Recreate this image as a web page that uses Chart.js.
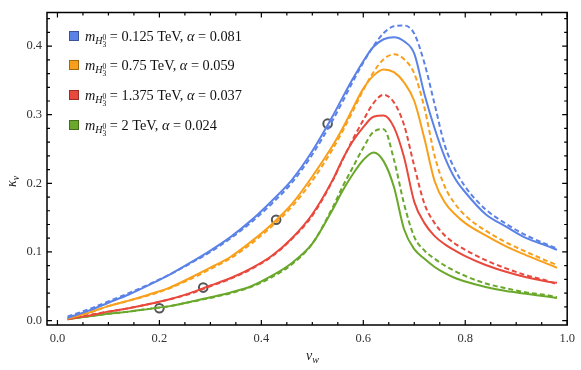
<!DOCTYPE html>
<html lang="en">
<head>
<meta charset="UTF-8">
<title>kappa_v vs v_w</title>
<script src="https://cdn.jsdelivr.net/npm/chart.js@4.4.1/dist/chart.umd.min.js"></script>
<style>
    html, body { margin: 0; padding: 0; background: #fff; }
</style>
</head>
<body>
<canvas id="chart" width="581" height="370"></canvas>
<script>
// wall velocity grid shared by all curves
const vw = [0.02, 0.06, 0.1, 0.14, 0.18, 0.22, 0.26, 0.3, 0.34, 0.38, 0.42, 0.46, 0.5, 0.54, 0.56, 0.58,
            0.6, 0.62, 0.64, 0.66, 0.68, 0.7, 0.72, 0.74, 0.76, 0.78, 0.8, 0.84, 0.88, 0.92, 0.96, 0.98];

const blueSolid   = [0.004, 0.014, 0.026, 0.038, 0.052, 0.067, 0.084, 0.102, 0.122, 0.146, 0.174, 0.205, 0.247, 0.298, 0.326, 0.353,
                     0.378, 0.399, 0.410, 0.413, 0.407, 0.389, 0.330, 0.280, 0.238, 0.207, 0.187, 0.155, 0.137, 0.120, 0.109, 0.103];
const blueDash    = [0.006, 0.016, 0.028, 0.040, 0.053, 0.067, 0.083, 0.100, 0.120, 0.143, 0.170, 0.201, 0.242, 0.292, 0.320, 0.349,
                     0.376, 0.400, 0.419, 0.429, 0.430, 0.418, 0.375, 0.315, 0.255, 0.220, 0.195, 0.162, 0.141, 0.124, 0.111, 0.105];
const orangeSolid = [0.003, 0.011, 0.021, 0.029, 0.038, 0.048, 0.062, 0.077, 0.093, 0.115, 0.140, 0.170, 0.210, 0.255, 0.281, 0.310,
                     0.338, 0.357, 0.366, 0.362, 0.347, 0.320, 0.265, 0.203, 0.172, 0.155, 0.142, 0.124, 0.108, 0.095, 0.083, 0.077];
const orangeDash  = [0.004, 0.011, 0.021, 0.029, 0.037, 0.047, 0.060, 0.075, 0.091, 0.112, 0.137, 0.166, 0.204, 0.250, 0.277, 0.306,
                     0.336, 0.362, 0.381, 0.388, 0.381, 0.360, 0.310, 0.240, 0.195, 0.170, 0.153, 0.131, 0.114, 0.100, 0.087, 0.081];
const redSolid    = [0.002, 0.007, 0.013, 0.018, 0.024, 0.031, 0.040, 0.051, 0.062, 0.076, 0.094, 0.120, 0.155, 0.205, 0.236, 0.262,
                     0.282, 0.297, 0.299, 0.282, 0.238, 0.173, 0.142, 0.123, 0.111, 0.102, 0.094, 0.081, 0.071, 0.063, 0.057, 0.055];
const redDash     = [0.003, 0.008, 0.013, 0.018, 0.024, 0.031, 0.039, 0.050, 0.061, 0.075, 0.093, 0.119, 0.153, 0.204, 0.235, 0.265,
                     0.292, 0.317, 0.329, 0.318, 0.285, 0.225, 0.170, 0.142, 0.124, 0.112, 0.103, 0.088, 0.076, 0.066, 0.058, 0.053];
const greenSolid  = [0.002, 0.006, 0.010, 0.013, 0.017, 0.021, 0.027, 0.034, 0.041, 0.050, 0.065, 0.084, 0.112, 0.162, 0.190, 0.214,
                     0.234, 0.245, 0.232, 0.195, 0.133, 0.104, 0.090, 0.078, 0.069, 0.062, 0.057, 0.049, 0.043, 0.039, 0.035, 0.033];
const greenDash   = [0.002, 0.006, 0.010, 0.013, 0.017, 0.021, 0.027, 0.033, 0.040, 0.049, 0.063, 0.082, 0.112, 0.165, 0.196, 0.224,
                     0.252, 0.275, 0.279, 0.235, 0.170, 0.122, 0.102, 0.090, 0.080, 0.072, 0.065, 0.054, 0.047, 0.041, 0.037, 0.034];

// marked points (open circles)
const markX = [0.530, 0.429, 0.286, 0.200];
const markY = [0.287, 0.147, 0.048, 0.018];

const masses = ['0.125', '0.75', '1.375', '2'];
const alphas = ['0.081', '0.059', '0.037', '0.024'];
const colors = ['#5b82e6', '#f8a01c', '#e8493c', '#6aa82b'];

const xTicks = [0, 0.2, 0.4, 0.6, 0.8, 1.0];
const yTicks = [0, 0.1, 0.2, 0.3, 0.4];

const FONT = '"Liberation Serif", "DejaVu Serif", serif';

function pts(ys) {
    return vw.map((v, i) => ({ x: v, y: ys[i] }));
}

const series = [
    [blueSolid, blueDash], [orangeSolid, orangeDash], [redSolid, redDash], [greenSolid, greenDash]
];
const datasets = [];
series.forEach((pair, i) => {
    datasets.push({ data: pts(pair[0]), borderColor: colors[i], borderWidth: 2, pointRadius: 0, cubicInterpolationMode: 'monotone' });
    datasets.push({ data: pts(pair[1]), borderColor: colors[i], borderWidth: 2, borderDash: [5, 3], pointRadius: 0, cubicInterpolationMode: 'monotone' });
});
datasets.push({
    type: 'scatter',
    data: markX.map((x, i) => ({ x: x, y: markY[i] })),
    showLine: false,
    pointRadius: 4.3,
    pointBorderWidth: 2,
    pointBackgroundColor: '#ffffff',
    pointBorderColor: '#555555'
});

// draw a run of text pieces (italic / size / vertical shift)
function drawPieces(ctx, x, y, pieces) {
    pieces.forEach(p => {
        if (p.stack) {
            let w = 0;
            p.stack.forEach(s => {
                ctx.font = (s.it ? 'italic ' : '') + s.size + 'px ' + FONT;
                ctx.fillText(s.t, x, y + s.dy);
                w = Math.max(w, ctx.measureText(s.t).width);
            });
            x += w;
        } else {
            ctx.font = (p.it ? 'italic ' : '') + p.size + 'px ' + FONT;
            ctx.fillText(p.t, x, y + (p.dy || 0));
            x += ctx.measureText(p.t).width;
        }
    });
    return x;
}

const framePlugin = {
    id: 'frame',
    afterDraw(chart) {
        const ctx = chart.ctx;
        const a = chart.chartArea;
        const xs = chart.scales.x, ys = chart.scales.y;
        ctx.save();
        ctx.strokeStyle = '#000';
        ctx.lineWidth = 1.5;
        ctx.strokeRect(a.left, a.top, a.right - a.left, a.bottom - a.top);

        ctx.lineWidth = 1.2;
        ctx.beginPath();
        for (let k = 0; k <= 20; k++) {
            const v = k * 0.05;
            const px = xs.getPixelForValue(v);
            const len = k % 4 === 0 ? 5 : 3;
            ctx.moveTo(px, a.bottom); ctx.lineTo(px, a.bottom - len);
            ctx.moveTo(px, a.top); ctx.lineTo(px, a.top + len);
        }
        for (let k = 0; k <= 22; k++) {
            const v = k * 0.02;
            const py = ys.getPixelForValue(v);
            const len = k % 5 === 0 ? 5 : 3;
            ctx.moveTo(a.left, py); ctx.lineTo(a.left + len, py);
            ctx.moveTo(a.right, py); ctx.lineTo(a.right - len, py);
        }
        ctx.stroke();

        // axis titles
        ctx.fillStyle = '#222';
        ctx.textBaseline = 'alphabetic';
        ctx.textAlign = 'left';
        drawPieces(ctx, 306, 360, [{ t: 'v', it: true, size: 14 }, { t: 'w', it: true, size: 10, dy: 3 }]);
        ctx.translate(16, 187);
        ctx.rotate(-Math.PI / 2);
        drawPieces(ctx, 0, 0, [{ t: 'κ', it: true, size: 14 }, { t: 'v', it: true, size: 10, dy: 3 }]);
        ctx.restore();

        // legend
        ctx.save();
        ctx.textBaseline = 'alphabetic';
        ctx.textAlign = 'left';
        const legendY = [37, 66, 96, 126];
        masses.forEach((m, i) => {
            const y = legendY[i];
            ctx.fillStyle = colors[i];
            ctx.fillRect(69, y - 6, 10, 10);
            ctx.strokeStyle = 'rgba(0,0,0,0.35)';
            ctx.lineWidth = 1;
            ctx.strokeRect(69.5, y - 5.5, 9, 9);
            ctx.fillStyle = '#111';
            drawPieces(ctx, 85, y + 4, [
                { t: 'm', it: true, size: 14.3 },
                { t: 'H', it: true, size: 10, dy: 2.5 },
                { stack: [{ t: '3', size: 7.5, dy: 6 }, { t: '0', size: 7.5, dy: -1 }] },
                { t: ' = ' + m + ' TeV, ', size: 14.3 },
                { t: 'α', it: true, size: 14.3 },
                { t: ' = ' + alphas[i], size: 14.3 }
            ]);
        });
        ctx.restore();
    }
};

new Chart(document.getElementById('chart'), {
    type: 'line',
    data: { datasets: datasets },
    options: {
        responsive: false,
        animation: false,
        layout: { padding: { top: 3, right: 9, left: 0, bottom: 0 } },
        plugins: { legend: { display: false }, tooltip: { enabled: false } },
        scales: {
            x: {
                type: 'linear',
                min: -0.0205,
                max: 1.0,
                afterBuildTicks: s => { s.ticks = xTicks.map(v => ({ value: v })); },
                afterFit: s => { s.height = 45; },
                grid: { display: false, drawTicks: false },
                border: { display: false },
                ticks: {
                    padding: 6,
                    maxRotation: 0,
                    color: '#333',
                    font: { family: FONT, size: 12.5 },
                    callback: v => v.toFixed(1)
                }
            },
            y: {
                min: -0.0065,
                max: 0.449,
                afterBuildTicks: s => { s.ticks = yTicks.map(v => ({ value: v })); },
                afterFit: s => { s.width = 47; },
                grid: { display: false, drawTicks: false },
                border: { display: false },
                ticks: {
                    padding: 5,
                    color: '#333',
                    font: { family: FONT, size: 12.5 },
                    callback: v => v.toFixed(1)
                }
            }
        }
    },
    plugins: [framePlugin]
});
</script>
</body>
</html>
